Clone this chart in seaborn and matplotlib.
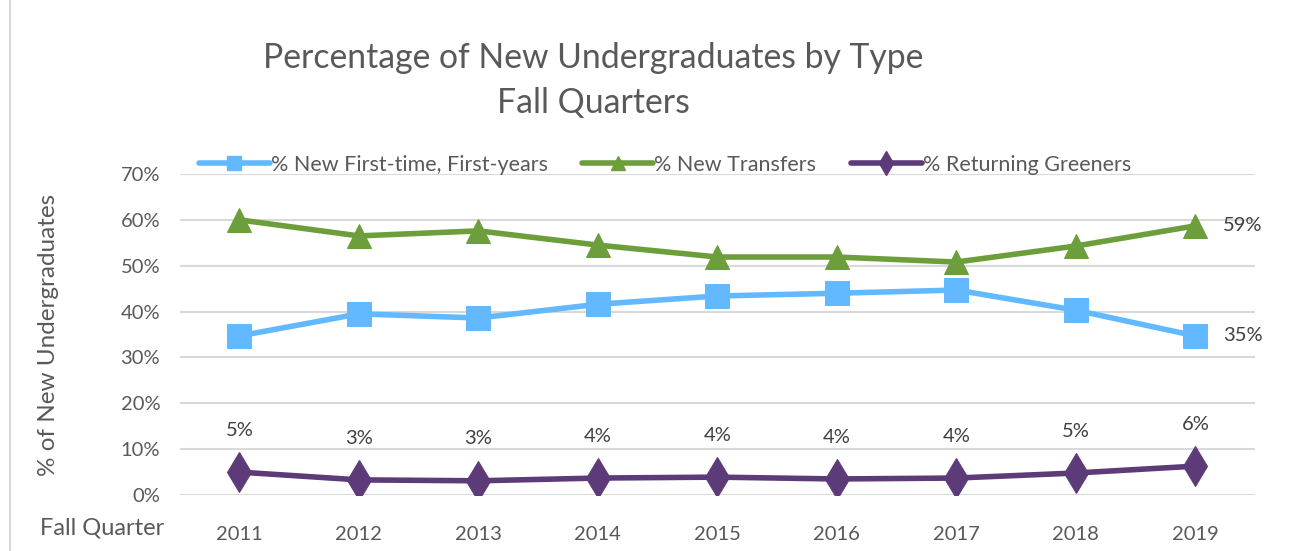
import pandas as pd
import numpy as np
import seaborn as sns
import matplotlib.pyplot as plt
from matplotlib.lines import Line2D
from matplotlib.patches import Rectangle

years = ['2011', '2012', '2013', '2014', '2015', '2016', '2017', '2018', '2019']
first_time = [0.347, 0.395, 0.386, 0.416, 0.434, 0.440, 0.447, 0.403, 0.347]
transfers = [0.600, 0.565, 0.576, 0.545, 0.519, 0.519, 0.508, 0.543, 0.587]
returning = [0.050, 0.033, 0.031, 0.037, 0.039, 0.035, 0.037, 0.048, 0.063]
series_names = ['% New First-time, First-years', '% New Transfers', '% Returning Greeners']
colors = ['#62B9FF', '#6C9E3B', '#5D3A78']
markers = ['s', '^', 'd']
msizes = [17, 17, 20]

df = pd.DataFrame({
    'year': years * 3,
    'value': first_time + transfers + returning,
    'series': np.repeat(series_names, len(years)),
})

sns.set_style('white')
plt.rcParams['font.family'] = ['Lato', 'DejaVu Sans']
txt = '#595959'

fig = plt.figure(figsize=(13.02, 5.51), dpi=100)
ax = fig.add_axes([0.138, 0.1016, 0.826, 0.5826])

sns.lineplot(data=df, x='year', y='value', hue='series', palette=colors,
             linewidth=4, legend=False, ax=ax, sort=False)
for line, m, ms, c in zip(ax.lines, markers, msizes, colors):
    line.set_marker(m)
    line.set_markersize(ms)
    line.set_markerfacecolor(c)
    line.set_markeredgecolor(c)

ax.set_xlim(-0.5, len(years) - 0.5)
ax.set_ylim(0, 0.7)
ax.set_yticks(np.arange(0, 0.71, 0.1))
ax.set_yticklabels([f'{int(round(v * 100))}%' for v in np.arange(0, 0.71, 0.1)])
ax.yaxis.grid(True, color='#D9D9D9', linewidth=1.5)
ax.set_axisbelow(True)
for s in ax.spines.values():
    s.set_visible(False)
ax.tick_params(axis='both', length=0, labelsize=14.5, colors=txt)
ax.tick_params(axis='x', pad=22)
ax.tick_params(axis='y', pad=14)
ax.set_xlabel('')
ax.set_ylabel('% of New Undergraduates', fontsize=17.5, color=txt, labelpad=44)

# data labels
for i, v in enumerate(returning):
    ax.annotate(f'{round(v * 100):.0f}%', (i, v), xytext=(0, 24), textcoords='offset points',
                ha='center', va='bottom', fontsize=14.5, color='#404040')
ax.annotate(f'{round(transfers[-1] * 100):.0f}%', (len(years) - 1, transfers[-1]), xytext=(20, 0),
            textcoords='offset points', ha='left', va='center', fontsize=14.5, color='#404040')
ax.annotate(f'{round(first_time[-1] * 100):.0f}%', (len(years) - 1, first_time[-1]), xytext=(20, 0),
            textcoords='offset points', ha='left', va='center', fontsize=14.5, color='#404040')

fig.text(40 / 1302, 1 - 528 / 551, 'Fall Quarter', fontsize=17, color=txt, ha='left', va='center')

fig.text(593 / 1302, 1 - 58 / 551, 'Percentage of New Undergraduates by Type', fontsize=24.3,
         color=txt, ha='center', va='center')
fig.text(593 / 1302, 1 - 103 / 551, 'Fall Quarters', fontsize=24.3,
         color=txt, ha='center', va='center')

handles = [Line2D([0], [0], color=c, marker=m, markersize=ms * 0.6, linewidth=4)
           for c, m, ms in zip(colors, markers, msizes)]
fig.legend(handles, series_names, loc='center', bbox_to_anchor=(665 / 1302, 1 - 165 / 551),
           ncol=3, frameon=False, fontsize=15.5, labelcolor=txt, handlelength=3.3,
           handletextpad=0.05, columnspacing=1.6)

fig.patches.append(Rectangle((10 / 1302, -0.01), 1.2, 1.2, transform=fig.transFigure,
                             fill=False, edgecolor='#D9D9D9', linewidth=1.5))

fig.savefig('out.png', dpi=100)
